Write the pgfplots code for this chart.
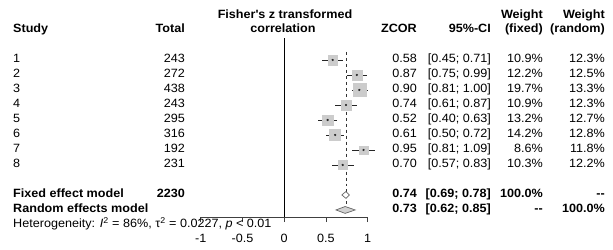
\documentclass[border=0pt]{standalone}
\usepackage{pgfplots}
\pgfplotsset{compat=1.18}
\usepackage{pgfplotstable}
\usepackage{fontspec}
\setmainfont{Liberation Sans}[FakeStretch=1.05]

\pgfplotstableread{
y   z    lo   hi   wf
-1  0.58 0.45 0.71 10.9
-2  0.87 0.75 0.99 12.2
-3  0.90 0.81 1.00 19.7
-4  0.74 0.61 0.87 10.9
-5  0.52 0.40 0.63 13.2
-6  0.61 0.50 0.72 14.2
-7  0.95 0.81 1.09 8.6
-8  0.70 0.57 0.83 10.3
}\studies

\newcommand{\R}[3]{\node[anchor=mid east,inner sep=0pt] at (#1,{249-#2}) {#3};}
\newcommand{\Lt}[3]{\node[anchor=mid west,inner sep=0pt] at (#1,{249-#2}) {#3};}
\newcommand{\Cn}[3]{\node[anchor=mid,inner sep=0pt] at (#1,{249-#2}) {#3};}

\begin{document}
\begin{tikzpicture}[x=1bp,y=1bp,font=\fontsize{12bp}{13bp}\selectfont]
\useasboundingbox (0,0) rectangle (613,249);
\fill[white] (0,0) rectangle (613,249);
\begin{axis}[
  at={(200.7bp,32bp)}, anchor=south west,
  scale only axis, width=167bp, height=179.1bp,
  xmin=-1, xmax=1, ymin=-11.47, ymax=0.47,
  axis x line=bottom, axis y line=none,
  axis line style={-, black!75, line width=0.7pt},
  xtick={-1,-0.5,0,0.5,1}, xticklabels={-1,-0.5,0,0.5,1},
  tick align=outside, major tick length=5bp,
  tick style={black!75, line width=0.7pt},
  xticklabel style={font=\fontsize{12bp}{13bp}\selectfont, yshift=-9bp},
  clip=false,
]
% zero line
\addplot[black, line width=1pt, mark=none] coordinates {(0,-11.47) (0,0.47)};
% fixed-effect line
\addplot[black!80, dashed, line width=0.6pt, mark=none] coordinates {(0.74,-0.47) (0.74,-11)};
% study squares
\addplot[scatter, only marks, mark=square*,
  scatter/use mapped color={draw=gray!40, fill=gray!40},
  visualization depends on={1.45*sqrt(\thisrow{wf}) \as \ms},
  scatter/@pre marker code/.append style={/tikz/mark size=\ms}]
  table[x=z, y=y] {\studies};
% CIs and centre points
\addplot[only marks, mark=*, mark size=0.9pt, black!85,
  error bars/.cd, x dir=both, x explicit, error mark=none,
  error bar style={black!85, line width=0.9pt}]
  table[x=z, y=y,
        x error plus expr=\thisrow{hi}-\thisrow{z},
        x error minus expr=\thisrow{z}-\thisrow{lo}] {\studies};
% fixed diamond
\addplot[draw=black!60, fill=white, line width=0.7pt, mark=none]
  coordinates {(0.69,-10) (0.74,-9.77) (0.78,-10) (0.74,-10.23)} -- cycle;
% random diamond
\addplot[draw=black!60, fill=gray!35, line width=0.7pt, mark=none]
  coordinates {(0.62,-11) (0.73,-10.77) (0.85,-11) (0.73,-11.23)} -- cycle;
\end{axis}

% headers
{\bfseries
\Lt{13}{30}{Study}
\R{185}{30}{Total}
\Cn{285}{16}{Fisher\textquotesingle s z transformed}
\Cn{283}{30}{correlation}
\R{417}{30}{ZCOR}
\R{491}{30}{95\%-CI}
\R{543}{16}{Weight}
\R{543}{30}{(fixed)}
\R{605}{16}{Weight}
\R{605}{30}{(random)}
}
% rows
\Lt{13}{60}{1}  \R{185}{60}{243} \R{417}{60}{0.58} \R{491}{60}{[0.45; 0.71]} \R{543}{60}{10.9\%} \R{605}{60}{12.3\%}
\Lt{13}{75}{2}  \R{185}{75}{272} \R{417}{75}{0.87} \R{491}{75}{[0.75; 0.99]} \R{543}{75}{12.2\%} \R{605}{75}{12.5\%}
\Lt{13}{90}{3}  \R{185}{90}{438} \R{417}{90}{0.90} \R{491}{90}{[0.81; 1.00]} \R{543}{90}{19.7\%} \R{605}{90}{13.3\%}
\Lt{13}{105}{4} \R{185}{105}{243} \R{417}{105}{0.74} \R{491}{105}{[0.61; 0.87]} \R{543}{105}{10.9\%} \R{605}{105}{12.3\%}
\Lt{13}{120}{5} \R{185}{120}{295} \R{417}{120}{0.52} \R{491}{120}{[0.40; 0.63]} \R{543}{120}{13.2\%} \R{605}{120}{12.7\%}
\Lt{13}{135}{6} \R{185}{135}{316} \R{417}{135}{0.61} \R{491}{135}{[0.50; 0.72]} \R{543}{135}{14.2\%} \R{605}{135}{12.8\%}
\Lt{13}{150}{7} \R{185}{150}{192} \R{417}{150}{0.95} \R{491}{150}{[0.81; 1.09]} \R{543}{150}{8.6\%} \R{605}{150}{11.8\%}
\Lt{13}{165}{8} \R{185}{165}{231} \R{417}{165}{0.70} \R{491}{165}{[0.57; 0.83]} \R{543}{165}{10.3\%} \R{605}{165}{12.2\%}
{\bfseries
\Lt{13}{195}{Fixed effect model} \R{185}{195}{2230} \R{417}{195}{0.74} \R{491}{195}{[0.69; 0.78]} \R{543}{195}{100.0\%} \R{605}{195}{-{}-}
\Lt{13}{210}{Random effects model} \R{417}{210}{0.73} \R{491}{210}{[0.62; 0.85]} \R{543}{210}{-{}-} \R{605}{210}{100.0\%}
}
{\fontsize{11bp}{12bp}\selectfont
\Lt{13}{225}{Heterogeneity: \textit{I}\textsuperscript{2} = 86\%, τ\textsuperscript{2} = 0.0227, \textit{p} < 0.01}
}
\end{tikzpicture}
\end{document}
